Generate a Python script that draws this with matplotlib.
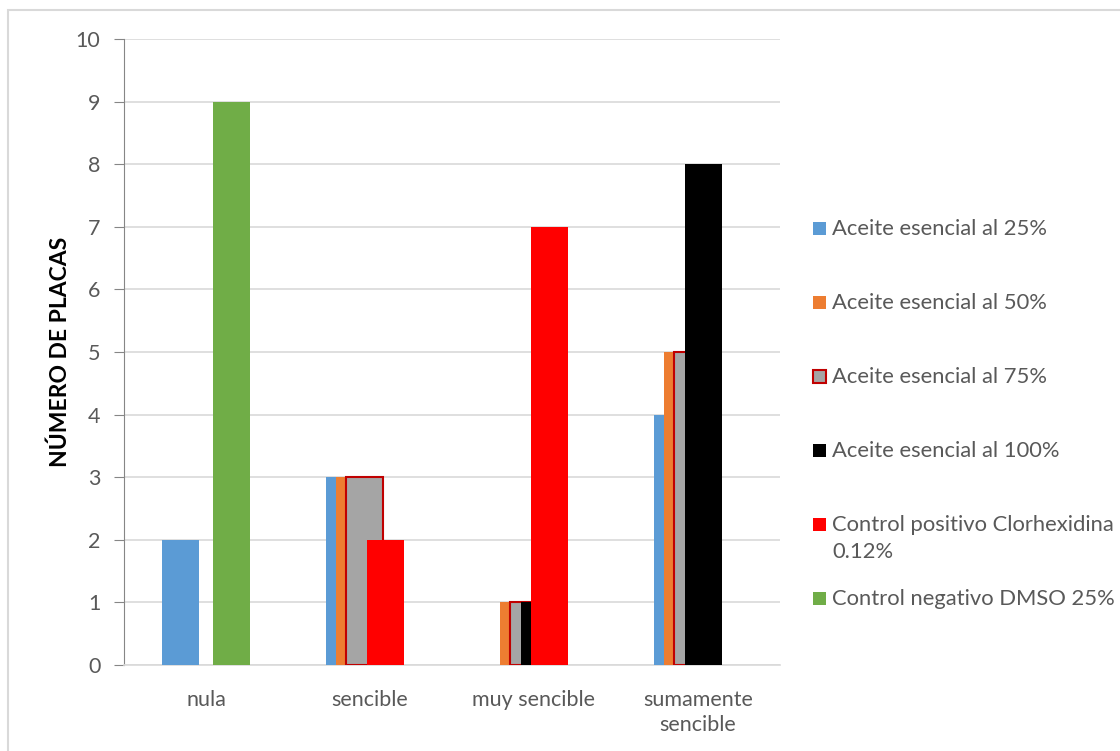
import numpy as np
import matplotlib.pyplot as plt
from matplotlib.patches import Rectangle

plt.rcParams['font.family'] = ['Lato', 'DejaVu Sans']

categories = ['nula', 'sencible', 'muy sencible', 'sumamente\nsencible']
series_names = ['Aceite esencial al 25%', 'Aceite esencial al 50%', 'Aceite esencial al 75%',
                'Aceite esencial al 100%', 'Control positivo Clorhexidina\n0.12%',
                'Control negativo DMSO 25%']
ac25 = [2, 3, 0, 4]
ac50 = [0, 3, 1, 5]
ac75 = [0, 3, 1, 5]
ac100 = [0, 0, 1, 8]
clorhex = [0, 2, 7, 0]
dmso = [9, 0, 0, 0]
values = [ac25, ac50, ac75, ac100, clorhex, dmso]

colors = ['#5B9BD5', '#ED7D31', '#A5A5A5', '#000000', '#FF0000', '#70AD47']
edges = [None, None, '#C00000', None, None, None]
txt = '#595959'

fig = plt.figure(figsize=(11.2, 7.51), dpi=100)
fig.patches.append(Rectangle((8 / 1120, -0.1), 1.2, (751 - 10) / 751 + 0.1,
                             transform=fig.transFigure, fill=False,
                             edgecolor='#D9D9D9', linewidth=1.5))

ax = fig.add_axes([124 / 1120, 86 / 751, 656 / 1120, 626 / 751])

x = np.arange(len(categories))
width = 0.2256
step = 0.0634
for i, (vals, c, ec) in enumerate(zip(values, colors, edges)):
    pos = x + (i - 2.5) * step
    for p, v in zip(pos, vals):
        if v == 0:
            continue
        if ec:
            ax.bar(p, v, width, color=c, edgecolor=ec, linewidth=1.5, zorder=3)
        else:
            ax.bar(p, v, width, color=c, linewidth=0, zorder=3)

ax.set_xlim(-0.5, 3.5)
ax.set_ylim(0, 10)
ax.set_yticks(range(11))
ax.set_xticks(x)
ax.set_xticklabels(categories, fontsize=15.5, color=txt, linespacing=1.3)
ax.tick_params(axis='x', length=0, pad=18)
ax.tick_params(axis='y', length=7, color='#868686', labelsize=15.5, labelcolor=txt, pad=10)
ax.yaxis.grid(True, color='#D9D9D9', linewidth=1.2, zorder=0)
ax.set_axisbelow(True)
for s in ['top', 'right']:
    ax.spines[s].set_visible(False)
ax.spines['left'].set_color('#868686')
ax.spines['bottom'].set_color('#D9D9D9')
ax.spines['bottom'].set_linewidth(1.2)

fig.text(60 / 1120, 1 - 352 / 751, 'NÚMERO DE PLACAS', rotation=90, fontsize=16.5,
         fontweight='bold', ha='center', va='center', color='black')

# legend drawn by hand so entries keep an even spacing
for i, (name, c, ec) in enumerate(zip(series_names, colors, edges)):
    yc = 228 + i * 74
    fig.patches.append(Rectangle((813 / 1120, 1 - (yc + 6.5) / 751), 13 / 1120, 13 / 751,
                                 transform=fig.transFigure, facecolor=c,
                                 edgecolor=ec if ec else c, linewidth=1.5 if ec else 0))
    fig.text(832 / 1120, 1 - (yc - 9) / 751, name, fontsize=15.8, color=txt,
             ha='left', va='top', linespacing=1.45)

fig.savefig('out.png', dpi=100)
